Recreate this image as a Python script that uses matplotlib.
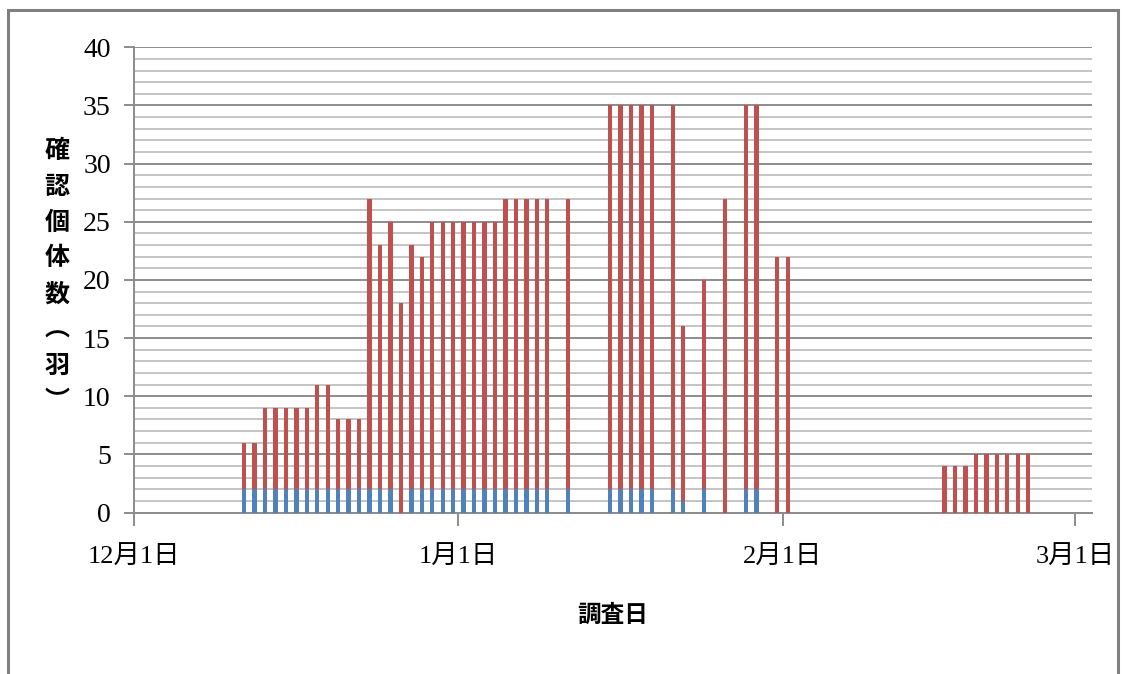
import datetime as dt
import matplotlib
matplotlib.use('Agg')
import matplotlib.pyplot as plt
import matplotlib.dates as mdates
from matplotlib.patches import Rectangle

plt.rcParams['font.family'] = ['Liberation Serif', 'Noto Sans CJK JP', 'DejaVu Sans']

# survey dates (Dec - Feb)
dates = ["2013-12-11", "2013-12-12", "2013-12-13", "2013-12-14", "2013-12-15",
         "2013-12-16", "2013-12-17", "2013-12-18", "2013-12-19", "2013-12-20",
         "2013-12-21", "2013-12-22", "2013-12-23", "2013-12-24", "2013-12-25",
         "2013-12-26", "2013-12-27", "2013-12-28", "2013-12-29", "2013-12-30",
         "2013-12-31", "2014-01-01", "2014-01-02", "2014-01-03", "2014-01-04",
         "2014-01-05", "2014-01-06", "2014-01-07", "2014-01-08", "2014-01-09",
         "2014-01-11", "2014-01-15", "2014-01-16", "2014-01-17", "2014-01-18",
         "2014-01-19", "2014-01-21", "2014-01-22", "2014-01-24", "2014-01-26",
         "2014-01-28", "2014-01-29", "2014-01-31", "2014-02-01", "2014-02-16",
         "2014-02-17", "2014-02-18", "2014-02-19", "2014-02-20", "2014-02-21",
         "2014-02-22", "2014-02-23", "2014-02-24"]

# blue (bottom) and red (top) counts
blue = [2, 2, 2, 2, 2, 2, 2, 2, 2, 2,
        2, 2, 2, 2, 2, 0, 2, 2, 2, 2,
        2, 2, 2, 2, 2, 2, 2, 2, 2, 2,
        2, 2, 2, 2, 2, 2, 2, 1, 2, 0,
        2, 2, 0, 0, 0, 0, 0, 0, 0, 0,
        0, 0, 0]
red = [4, 4, 7, 7, 7, 7, 7, 9, 9, 6,
       6, 6, 25, 21, 23, 18, 21, 20, 23, 23,
       23, 23, 23, 23, 23, 25, 25, 25, 25, 25,
       25, 33, 33, 33, 33, 33, 33, 15, 18, 27,
       33, 33, 22, 22, 4, 4, 4, 5, 5, 5,
       5, 5, 5]

tick_dates = ["2013-12-01", "2014-01-01", "2014-02-01", "2014-03-01"]

x = [mdates.date2num(dt.date.fromisoformat(d)) + 0.5 for d in dates]
ticks = [mdates.date2num(dt.date.fromisoformat(d)) for d in tick_dates]
tick_labels = [f"{dt.date.fromisoformat(d).month}月{dt.date.fromisoformat(d).day}日" for d in tick_dates]

fig = plt.figure(figsize=(11.24, 6.74), dpi=100)
ax = fig.add_axes([0.1195, 0.2396, 0.852, 0.6902])

ax.bar(x, blue, width=0.42, color='#4F81BD', zorder=3)
ax.bar(x, red, width=0.42, bottom=blue, color='#C0504D', zorder=3)

ax.set_xlim(ticks[0], ticks[0] + 91.6)
ax.set_ylim(0, 40)
ax.set_yticks(range(0, 41, 5))
ax.set_yticks(range(0, 41, 1), minor=True)
ax.set_xticks(ticks)
ax.set_xticklabels(tick_labels)

ax.grid(axis='y', which='minor', color='#c4c4c4', linewidth=1.4, zorder=0)
ax.grid(axis='y', which='major', color='#8c8c8c', linewidth=1.4, zorder=1)

for s in ['top', 'right']:
    ax.spines[s].set_visible(False)
for s in ['left', 'bottom']:
    ax.spines[s].set_color('#8c8c8c')
    ax.spines[s].set_linewidth(1.4)

ax.tick_params(axis='y', which='major', length=7, width=1.4, color='#8c8c8c',
               labelsize=20, pad=10)
ax.tick_params(axis='y', which='minor', length=0)
ax.tick_params(axis='x', length=9, width=1.4, color='#8c8c8c', labelsize=19, pad=15)

ax.set_xlabel("調査日", fontsize=17, fontweight='bold', labelpad=26)

fig.text(0.0505, 0.590, "\n".join("確認個体数︵羽︶"), fontsize=18, fontweight='bold',
         ha='center', va='center', linespacing=1.62, family=['Noto Sans CJK JP', 'DejaVu Sans'])

# outer chart border
fig.patches.append(Rectangle((0.0075, -0.02), 0.987, 1.005, transform=fig.transFigure,
                             fill=False, edgecolor='#808080', linewidth=2.2))

fig.savefig("out.png", dpi=100)
